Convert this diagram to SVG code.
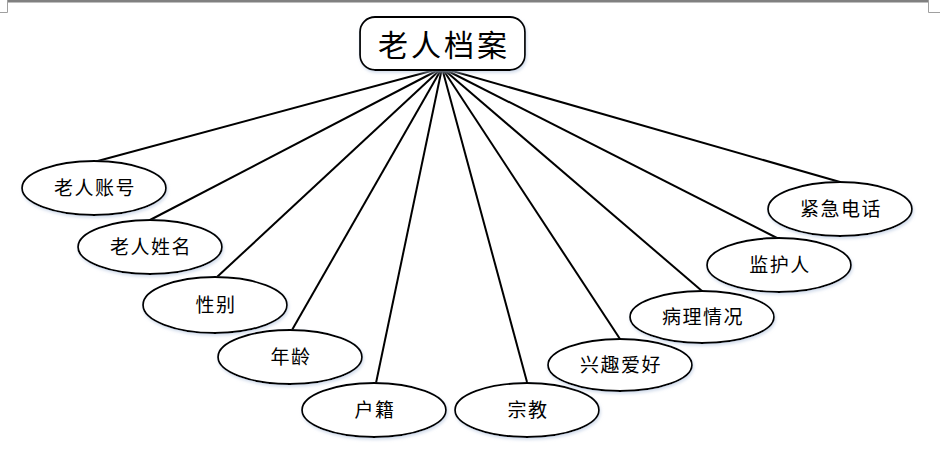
<svg xmlns="http://www.w3.org/2000/svg" width="940" height="459" viewBox="0 0 940 459">
<defs>
<filter id="sh" x="-10%" y="-10%" width="120%" height="130%">
<feDropShadow dx="1" dy="2" stdDeviation="1.5" flood-color="#b8c8e0" flood-opacity="0.6"/>
</filter>
<style>
.n{fill:#fff;stroke:#000;stroke-width:1.8;filter:url(#sh)}
.t{font-family:"Noto Sans CJK SC","Liberation Sans",sans-serif;font-size:19px;fill:#000;text-anchor:middle;letter-spacing:1.5px}
.c line{stroke:#000;stroke-width:2}
</style>
</defs>
<rect width="940" height="459" fill="#fff"/>
<rect x="7" y="0" width="921" height="2.5" fill="#808080"/>
<path d="M7.5 0V12.5H0M928.5 0V12.5H940" fill="none" stroke="#a0a0a0" stroke-width="1"/>
<g class="c" id="connectors">
<line x1="442" y1="68" x2="94" y2="162"/>
<line x1="442" y1="68" x2="150" y2="220"/>
<line x1="442" y1="68" x2="217" y2="277"/>
<line x1="442" y1="68" x2="292" y2="330"/>
<line x1="442" y1="68" x2="376" y2="383"/>
<line x1="442" y1="68" x2="527" y2="382"/>
<line x1="442" y1="68" x2="620" y2="339"/>
<line x1="442" y1="68" x2="702" y2="291"/>
<line x1="442" y1="68" x2="777" y2="238"/>
<line x1="442" y1="68" x2="840" y2="182"/>
</g>
<g id="root">
<rect class="n" x="360" y="17" width="165" height="53" rx="15"/>
<text x="444" y="56" style="font-family:'Noto Sans CJK SC','Liberation Sans',sans-serif;font-size:30px;text-anchor:middle;letter-spacing:3px">老人档案</text>
</g>
<g id="n1"><ellipse class="n" cx="94" cy="188" rx="72" ry="27"/><text class="t" x="95" y="195">老人账号</text></g>
<g id="n2"><ellipse class="n" cx="150" cy="247" rx="72" ry="27"/><text class="t" x="151" y="254">老人姓名</text></g>
<g id="n3"><ellipse class="n" cx="215" cy="305" rx="72" ry="28"/><text class="t" x="216" y="312">性别</text></g>
<g id="n4"><ellipse class="n" cx="290" cy="357" rx="72" ry="27"/><text class="t" x="291" y="364">年龄</text></g>
<g id="n5"><ellipse class="n" cx="374" cy="410" rx="72" ry="27"/><text class="t" x="375" y="417">户籍</text></g>
<g id="n6"><ellipse class="n" cx="527" cy="410" rx="72" ry="27"/><text class="t" x="528" y="417">宗教</text></g>
<g id="n7"><ellipse class="n" cx="620" cy="365" rx="72" ry="26"/><text class="t" x="621" y="372">兴趣爱好</text></g>
<g id="n8"><ellipse class="n" cx="702" cy="317" rx="72" ry="26"/><text class="t" x="703" y="324">病理情况</text></g>
<g id="n9"><ellipse class="n" cx="779" cy="265" rx="72" ry="27"/><text class="t" x="780" y="272">监护人</text></g>
<g id="n10"><ellipse class="n" cx="840" cy="209" rx="72" ry="27"/><text class="t" x="841" y="216">紧急电话</text></g>
</svg>
